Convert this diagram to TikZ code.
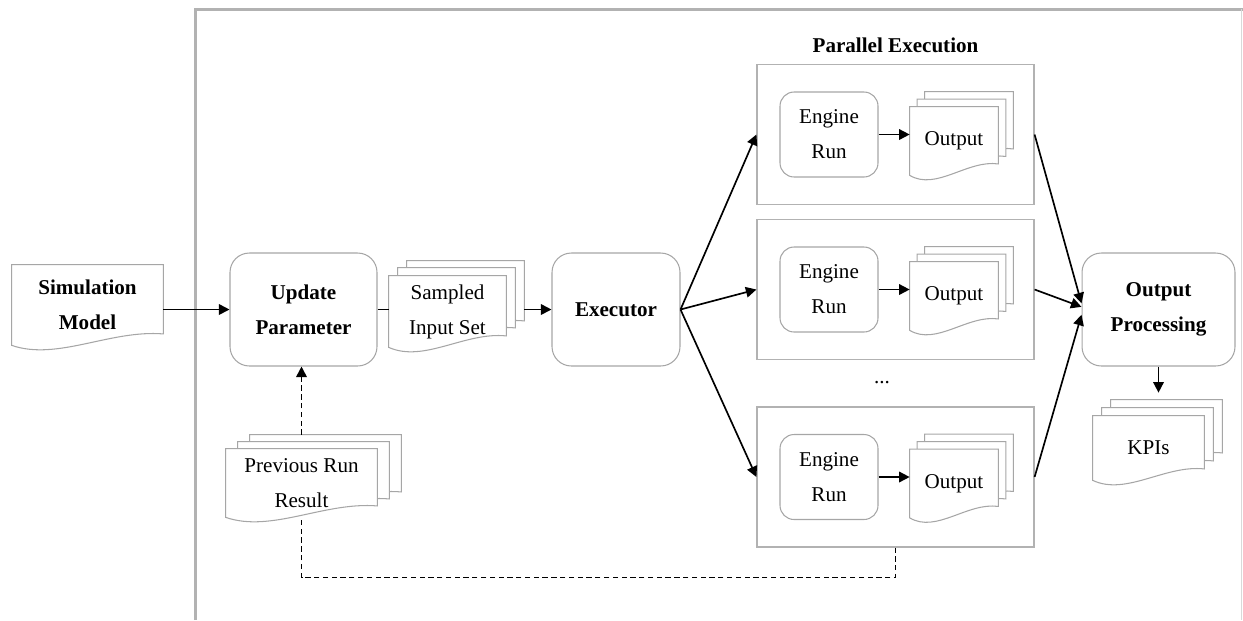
\documentclass[tikz,border=0pt]{standalone}
\usepackage{fontspec}
\setmainfont{Liberation Serif}
\usetikzlibrary{arrows.meta,calc,backgrounds}

\tikzset{
	every node/.style={font=\fontsize{12}{20}\selectfont, align=center, inner sep=0pt},
	stepbox/.style 2 args={draw=black!35, line width=0.6pt, rounded corners=11pt, minimum width=#1, minimum height=#2},
	runbox/.style={draw=black!35, line width=0.6pt, rounded corners=8pt, minimum width=1.96cm, minimum height=1.7cm},
	lane/.style={draw=black!30, line width=0.7pt, minimum width=5.54cm, minimum height=2.8cm},
	paper/.style 2 args={minimum width=#1, minimum height=#2},
	docline/.style={draw=black!35, fill=white, line width=0.6pt},
	arr/.style={-{Triangle[length=6pt,width=6pt]}, line width=0.95pt},
	back/.style={arr, dash pattern=on 3pt off 2pt},
}

% document outline round a node, wavy bottom
\newcommand{\docshape}[1]{%
	\filldraw[docline] let \p1=(#1.south west), \p2=(#1.north east) in
		(\x1,\y2) -- (\x2,\y2) -- ({\x2},{\y1+6.5pt})
		.. controls ({\x1+0.65*(\x2-\x1)},{\y1+9pt}) and ({\x1+0.3*(\x2-\x1)},{\y1-9pt}) .. (\x1,\y1) -- cycle;}

\begin{document}
\begin{tikzpicture}[x=0.02cm, y=-0.02cm]
	\useasboundingbox (0,0) rectangle (1243,620);
	% frame
	\draw[black!30, line width=0.06cm] (195,620) -- (195,9) -- (1243,9);
	\draw[black!15, line width=0.6pt] (1241.5,9) -- (1241.5,620);

	\node[paper={3.02cm}{1.6cm}, font=\bfseries\fontsize{12}{20}\selectfont] (sim) at (87.5,305) {Simulation\\Model};
	\node[stepbox={2.94cm}{2.26cm}, font=\bfseries\fontsize{12}{20}\selectfont] (upd) at (303.5,309.5) {Update\\Parameter};
	\node[paper={2.34cm}{1.42cm}] (smp) at (447.5,311.5) {Sampled\\Input Set};
	\node[paper={2.34cm}{1.42cm}] (smp-1) at ($(smp)+(9,-8)$) {};
	\node[paper={2.34cm}{1.42cm}] (smp-2) at ($(smp)+(18,-15)$) {};
	\node[stepbox={2.56cm}{2.26cm}, font=\bfseries\fontsize{12}{20}\selectfont] (exec) at (616,309.5) {Executor};
	\node[paper={3.02cm}{1.36cm}] (prev) at (301.5,483) {Previous Run\\Result};
	\node[paper={3.02cm}{1.36cm}] (prev-1) at ($(prev)+(12,-7)$) {};
	\node[paper={3.02cm}{1.36cm}] (prev-2) at ($(prev)+(24,-14)$) {};

	% parallel runs
	\node[font=\bfseries\fontsize{12}{20}\selectfont] (par) at (895.5,45) {Parallel Execution};
	\node[lane] (box1) at (895.5,134.5) {};
	\node[runbox] (eng1) at ($(box1)+(-66.5,0)$) {Engine\\Run};
	\node[paper={1.76cm}{1.36cm}] (out1) at ($(box1)+(58.5,6.5)$) {Output};
	\node[paper={1.76cm}{1.36cm}] (out1-1) at ($(out1)+(7.5,-7.5)$) {};
	\node[paper={1.76cm}{1.36cm}] (out1-2) at ($(out1)+(15,-15)$) {};
	\node[lane] (box2) at (895.5,289.5) {};
	\node[runbox] (eng2) at ($(box2)+(-66.5,0)$) {Engine\\Run};
	\node[paper={1.76cm}{1.36cm}] (out2) at ($(box2)+(58.5,6.5)$) {Output};
	\node[paper={1.76cm}{1.36cm}] (out2-1) at ($(out2)+(7.5,-7.5)$) {};
	\node[paper={1.76cm}{1.36cm}] (out2-2) at ($(out2)+(15,-15)$) {};
	\node (dots) at (882,383) {...};
	\node[lane] (box3) at (895.5,477) {};
	\node[runbox] (eng3) at ($(box3)+(-66.5,0)$) {Engine\\Run};
	\node[paper={1.76cm}{1.36cm}] (out3) at ($(box3)+(58.5,6.5)$) {Output};
	\node[paper={1.76cm}{1.36cm}] (out3-1) at ($(out3)+(7.5,-7.5)$) {};
	\node[paper={1.76cm}{1.36cm}] (out3-2) at ($(out3)+(15,-15)$) {};

	\node[stepbox={3.06cm}{2.26cm}, font=\bfseries\fontsize{12}{20}\selectfont] (proc) at (1158.5,309.5) {Output\\Processing};
	\node[paper={2.22cm}{1.28cm}] (kpi) at (1148.5,448) {KPIs};
	\node[paper={2.22cm}{1.28cm}] (kpi-1) at ($(kpi)+(9,-8)$) {};
	\node[paper={2.22cm}{1.28cm}] (kpi-2) at ($(kpi)+(18,-16)$) {};

	\begin{scope}[on background layer]
		\docshape{sim}
		\docshape{smp-2} \docshape{smp-1} \docshape{smp}
		\docshape{prev-2} \docshape{prev-1} \docshape{prev}
		\docshape{out1-2} \docshape{out1-1} \docshape{out1}
		\docshape{out2-2} \docshape{out2-1} \docshape{out2}
		\docshape{out3-2} \docshape{out3-1} \docshape{out3}
		\docshape{kpi-2} \docshape{kpi-1} \docshape{kpi}
	\end{scope}

	\draw[arr] (sim.east |- upd.west) -- (upd.west);
	\draw[line width=0.95pt] (upd.east) -- (upd.east -| smp.west);
	\draw[arr] (smp-2.east |- exec.west) -- (exec.west);
	\draw[arr] (exec.east) -- (box1.west);
	\draw[arr] (exec.east) -- (box2.west);
	\draw[arr] (exec.east) -- (box3.west);
	\draw[arr] (eng1.east) -- (eng1.east -| out1.west);
	\draw[arr] (eng2.east) -- (eng2.east -| out2.west);
	\draw[arr] (eng3.east) -- (eng3.east -| out3.west);
	\draw[arr] (box1.east) -- ([yshift=3.5pt]proc.west);
	\draw[arr] (box2.east) -- ([yshift=1.5pt]proc.west);
	\draw[arr] (box3.east) -- ([yshift=-3pt]proc.west);
	\draw[arr, shorten >=4pt] (proc.south) -- (proc.south |- kpi-2.north);
	\draw[back, -] (box3.south) -- ++(0,30) -| (prev.south);
	\draw[back] (prev.north |- prev-2.north) -- (prev.north |- upd.south);
\end{tikzpicture}
\end{document}
